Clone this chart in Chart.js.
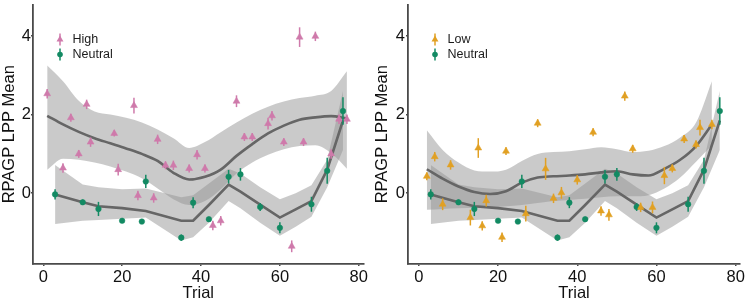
<!DOCTYPE html>
<html>
<head>
<meta charset="utf-8">
<script src="https://cdn.jsdelivr.net/npm/chart.js@4.4.1/dist/chart.umd.min.js"></script>
<style>
  html, body { margin: 0; padding: 0; background: #fff; }
  #wrap { position: relative; width: 747px; height: 301px; }
  #leftPanel { position: absolute; left: 0; top: 0; }
  #rightPanel { position: absolute; left: 370px; top: 0; }
</style>
</head>
<body>
<div id="wrap">
  <canvas id="leftPanel" width="370" height="301"></canvas>
  <canvas id="rightPanel" width="377" height="301"></canvas>
</div>
<script>
// точки: номер пробы, среднее и полуширина планки ошибки
const highTrial = [1, 5, 7, 9, 11, 12, 18, 19, 23, 24, 28, 29, 31, 33, 37, 39, 41, 43, 45, 49, 51, 53, 57, 58, 61, 63, 65, 66, 69, 73, 75, 77];
const highMean = [2.53, 0.64, 1.92, 1.0, 2.26, 1.3, 1.52, 0.6, 2.23, -0.06, -0.12, 1.37, 0.71, 0.71, 0.63, 0.98, 0.63, -0.82, -0.7, 2.34, 1.43, 1.43, 1.77, 1.97, 1.3, -1.35, 3.97, 1.3, 3.99, 1.0, 1.88, 1.88];
const highErr = [0.12, 0.12, 0.1, 0.1, 0.12, 0.12, 0.08, 0.15, 0.2, 0.12, 0.12, 0.12, 0.1, 0.12, 0.1, 0.12, 0.1, 0.12, 0.12, 0.15, 0.1, 0.1, 0.15, 0.12, 0.1, 0.15, 0.25, 0.1, 0.12, 0.12, 0.12, 0.12];

const lowTrial = [2, 4, 6, 8, 13, 15, 16, 17, 21, 22, 27, 30, 32, 34, 36, 40, 44, 46, 48, 52, 54, 56, 59, 62, 64, 67, 70, 71, 74];
const lowMean = [0.43, 0.93, -0.28, 0.72, -0.62, 1.15, -0.83, -0.19, -1.12, 1.07, -0.52, 1.78, 0.62, -0.13, 0.01, 0.34, 1.55, -0.45, -0.55, 2.47, 1.13, -0.36, -0.36, 0.45, 0.63, 1.38, 1.24, 1.67, 1.75];
const lowErr = [0.1, 0.12, 0.15, 0.12, 0.2, 0.25, 0.12, 0.15, 0.12, 0.1, 0.2, 0.1, 0.28, 0.12, 0.15, 0.12, 0.1, 0.12, 0.15, 0.12, 0.1, 0.12, 0.15, 0.22, 0.1, 0.1, 0.1, 0.2, 0.12];

const neutralTrial = [3, 10, 14, 20, 25, 26, 35, 38, 42, 47, 50, 55, 60, 68, 72, 76];
const neutralMean = [-0.03, -0.23, -0.4, -0.7, -0.72, 0.3, -1.13, -0.24, -0.66, 0.42, 0.48, -0.35, -0.88, -0.28, 0.57, 2.09];
const neutralErr = [0.13, 0.07, 0.18, 0.06, 0.06, 0.17, 0.08, 0.14, 0.06, 0.17, 0.16, 0.1, 0.14, 0.19, 0.33, 0.35];

// сглаживание (линия тренда и доверительная полоса)
const highSmoothTrial = [1, 5, 9, 13, 17, 21, 25, 29, 33, 37, 41, 45, 49, 53, 57, 61, 65, 69, 73, 77];
const highSmoothFit = [1.97, 1.75, 1.56, 1.4, 1.27, 1.14, 1.0, 0.82, 0.52, 0.35, 0.42, 0.6, 0.95, 1.25, 1.52, 1.72, 1.87, 1.93, 1.96, 1.9];
const highSmoothHi = [3.25, 2.85, 2.35, 2.08, 2.0, 1.92, 1.8, 1.62, 1.4, 1.15, 1.3, 1.55, 1.8, 2.02, 2.2, 2.33, 2.42, 2.48, 2.6, 3.1];
const highSmoothLo = [0.6, 0.88, 0.85, 0.78, 0.68, 0.55, 0.38, 0.12, -0.15, -0.3, -0.2, 0.1, 0.5, 0.78, 0.98, 1.12, 1.2, 1.22, 1.02, 0.62];

const lowSmoothTrial = [2, 6, 10, 14, 18, 22, 26, 30, 34, 38, 42, 46, 50, 54, 58, 62, 66, 70, 74];
const lowSmoothFit = [0.61, 0.37, 0.17, 0.03, -0.02, 0.05, 0.27, 0.4, 0.43, 0.45, 0.48, 0.53, 0.56, 0.48, 0.45, 0.62, 0.85, 1.2, 1.75];
const lowSmoothHi = [1.6, 1.1, 0.78, 0.58, 0.55, 0.6, 0.82, 1.0, 1.05, 1.07, 1.12, 1.17, 1.12, 1.05, 1.08, 1.2, 1.42, 1.8, 2.85];
const lowSmoothLo = [-0.42, -0.4, -0.38, -0.37, -0.36, -0.33, -0.3, -0.25, -0.2, -0.17, -0.14, -0.1, -0.08, -0.08, -0.05, 0.12, 0.4, 0.8, 1.22];

const neutralSmoothTrial = [3, 10, 14, 20, 26, 35, 38, 42, 47, 50, 55, 60, 64, 68, 72, 76];
const neutralSmoothFit = [-0.03, -0.23, -0.33, -0.38, -0.45, -0.7, -0.7, -0.3, 0.22, 0.04, -0.29, -0.62, -0.41, -0.2, 0.6, 1.85];
const neutralSmoothHi = [0.72, 0.22, 0.15, 0.1, 0.12, -0.1, -0.05, 0.25, 0.62, 0.5, 0.15, -0.15, 0.0, 0.2, 0.85, 2.6];
const neutralSmoothLo = [-0.78, -0.7, -0.68, -0.65, -0.62, -1.2, -1.12, -0.75, -0.2, -0.38, -0.75, -1.08, -0.85, -0.6, 0.15, 1.1];

const xTickValues = [0, 20, 40, 60, 80];
const yTickValues = [0, 2, 4];

const FONT = '"Liberation Sans", Arial, sans-serif';
const BAND_COLOR = 'rgba(150, 150, 150, 0.5)';
const FIT_COLOR = '#666666';
const AXIS_COLOR = '#4a4a4a';

const toXY = (xs, ys) => xs.map((x, i) => ({ x: x, y: ys[i] }));

// вертикальные планки ошибок
const errorBars = {
    id: 'errorBars',
    afterDatasetsDraw(chart) {
        const ctx = chart.ctx;
        const yScale = chart.scales.y;
        chart.data.datasets.forEach((ds, i) => {
            if (!ds.errors) return;
            const meta = chart.getDatasetMeta(i);
            ctx.save();
            ctx.strokeStyle = ds.borderColor;
            ctx.lineWidth = 1.5;
            meta.data.forEach((pt, j) => {
                const v = ds.data[j].y;
                const e = ds.errors[j];
                ctx.beginPath();
                ctx.moveTo(pt.x, yScale.getPixelForValue(v - e));
                ctx.lineTo(pt.x, yScale.getPixelForValue(v + e));
                ctx.stroke();
            });
            ctx.restore();
        });
    }
};

function drawMarker(ctx, style, x, y, r) {
    ctx.beginPath();
    if (style === 'triangle') {
        ctx.moveTo(x, y - r);
        ctx.lineTo(x + 0.866 * r, y + 0.5 * r);
        ctx.lineTo(x - 0.866 * r, y + 0.5 * r);
        ctx.closePath();
    } else {
        ctx.arc(x, y, r, 0, Math.PI * 2);
    }
    ctx.fill();
}

// легенда внутри области графика, слева сверху
const insideLegend = {
    id: 'insideLegend',
    afterDraw(chart) {
        const { ctx, chartArea } = chart;
        const items = chart.data.datasets.filter(ds => ds.errors);
        items.forEach((ds, i) => {
            const cx = chartArea.left + 27;
            const cy = chartArea.top + 35 + i * 15;
            ctx.save();
            ctx.strokeStyle = ds.borderColor;
            ctx.lineWidth = 1.5;
            ctx.beginPath();
            ctx.moveTo(cx, cy - 6);
            ctx.lineTo(cx, cy + 6);
            ctx.stroke();
            ctx.fillStyle = ds.pointBackgroundColor;
            drawMarker(ctx, ds.pointStyle, cx, cy, ds.pointRadius);
            ctx.fillStyle = '#1a1a1a';
            ctx.font = '12.5px ' + FONT;
            ctx.textBaseline = 'middle';
            ctx.fillText(ds.label, chartArea.left + 39.5, cy);
            ctx.restore();
        });
    }
};

function bandDatasets(xs, lo, hi, smooth) {
    const mode = smooth ? 'monotone' : 'default';
    return [
        {
            type: 'line', data: toXY(xs, hi), borderWidth: 0, pointRadius: 0,
            fill: false, cubicInterpolationMode: mode, tension: 0, order: 3
        },
        {
            type: 'line', data: toXY(xs, lo), borderWidth: 0, pointRadius: 0,
            fill: '-1', backgroundColor: BAND_COLOR,
            cubicInterpolationMode: mode, tension: 0, order: 3
        }
    ];
}

function fitDataset(xs, ys, smooth) {
    return {
        type: 'line', data: toXY(xs, ys), borderColor: FIT_COLOR, borderWidth: 2.6,
        pointRadius: 0, fill: false, cubicInterpolationMode: smooth ? 'monotone' : 'default',
        tension: 0, order: 2
    };
}

function pointDataset(label, xs, ys, errs, color, style, radius) {
    return {
        type: 'line', label: label, data: toXY(xs, ys), errors: errs, showLine: false,
        borderColor: color, pointBackgroundColor: color, pointBorderColor: color,
        pointBorderWidth: 0.5, pointStyle: style, pointRadius: radius, order: 1
    };
}

function buildPanel(canvasId, group, axisWidth, rightPad, titlePad, tickPad) {
    const datasets = [
        ...bandDatasets(group.smoothTrial, group.smoothLo, group.smoothHi, true),
        ...bandDatasets(neutralSmoothTrial, neutralSmoothLo, neutralSmoothHi, false),
        fitDataset(group.smoothTrial, group.smoothFit, true),
        fitDataset(neutralSmoothTrial, neutralSmoothFit, false),
        pointDataset(group.label, group.trial, group.mean, group.err, group.color, 'triangle', 4),
        pointDataset('Neutral', neutralTrial, neutralMean, neutralErr, '#138a63', 'circle', 2.8)
    ];

    return new Chart(document.getElementById(canvasId), {
        type: 'line',
        data: { datasets: datasets },
        options: {
            responsive: false,
            animation: false,
            devicePixelRatio: 1,
            events: [],
            layout: { padding: { left: 0, right: rightPad, top: 0, bottom: 0 } },
            plugins: {
                legend: { display: false },
                tooltip: { enabled: false }
            },
            scales: {
                x: {
                    type: 'linear',
                    min: group.xMin,
                    max: group.xMax,
                    afterBuildTicks: s => { s.ticks = xTickValues.map(v => ({ value: v })); },
                    afterFit: s => { s.height = 37; },
                    grid: { drawOnChartArea: false, tickLength: 2, color: AXIS_COLOR, lineWidth: 1.5 },
                    border: { color: AXIS_COLOR, width: 1.8 },
                    ticks: { font: { family: FONT, size: 16.5 }, color: '#111', padding: 2, maxRotation: 0 },
                    title: { display: true, text: 'Trial', font: { family: FONT, size: 16.5 }, color: '#111', padding: { top: 0, bottom: -2 } }
                },
                y: {
                    type: 'linear',
                    min: -1.8,
                    max: 4.8,
                    afterBuildTicks: s => { s.ticks = yTickValues.map(v => ({ value: v })); },
                    afterFit: s => { s.width = axisWidth; s.paddingTop = 0; s.paddingBottom = 0; },
                    grid: { drawOnChartArea: false, tickLength: 2, color: AXIS_COLOR, lineWidth: 1.5 },
                    border: { color: AXIS_COLOR, width: 1.8 },
                    ticks: { font: { family: FONT, size: 16.5 }, color: '#111', padding: tickPad },
                    title: { display: true, text: 'RPAGP LPP Mean', font: { family: FONT, size: 16.5 }, color: '#111', padding: { top: titlePad, bottom: 0 } }
                }
            }
        },
        plugins: [errorBars, insideLegend]
    });
}

buildPanel('leftPanel', {
    label: 'High', color: '#cf7aab', xMin: -2.6, xMax: 81.2,
    trial: highTrial, mean: highMean, err: highErr,
    smoothTrial: highSmoothTrial, smoothFit: highSmoothFit, smoothLo: highSmoothLo, smoothHi: highSmoothHi
}, 33, 5, 0, 0);

buildPanel('rightPanel', {
    label: 'Low', color: '#e1a023', xMin: -2.75, xMax: 81.1,
    trial: lowTrial, mean: lowMean, err: lowErr,
    smoothTrial: lowSmoothTrial, smoothFit: lowSmoothFit, smoothLo: lowSmoothLo, smoothHi: lowSmoothHi
}, 38, 7, 3, 1);
</script>
</body>
</html>
